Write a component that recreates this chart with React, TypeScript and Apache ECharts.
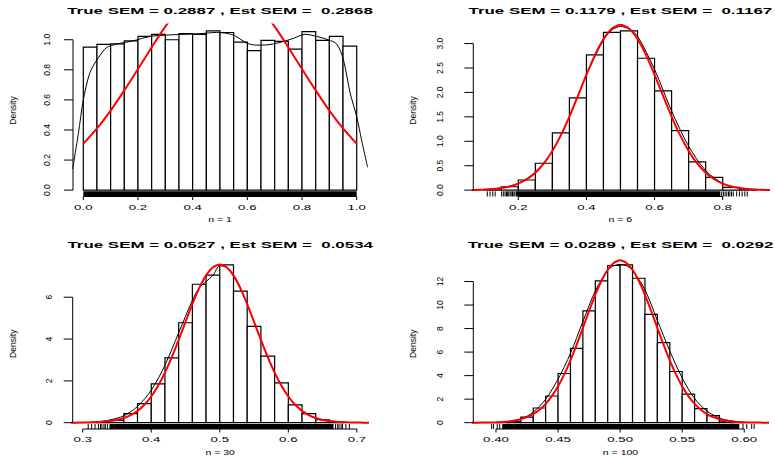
import React, { useEffect, useRef } from "react";
import * as echarts from "echarts";

// ---------------- Data ----------------
const titles = [
  "True SEM = 0.2887 , Est SEM =  0.2868",
  "True SEM = 0.1179 , Est SEM =  0.1167",
  "True SEM = 0.0527 , Est SEM =  0.0534",
  "True SEM = 0.0289 , Est SEM =  0.0292",
];
const xLabels = ["n = 1", "n = 6", "n = 30", "n = 100"];
const yLabel = "Density";

// Panel 1 (n = 1)
const p1Breaks = [0, 0.05, 0.1, 0.15, 0.2, 0.25, 0.3, 0.35, 0.4, 0.45, 0.5, 0.55, 0.6, 0.65, 0.7, 0.75, 0.8, 0.85, 0.9, 0.95, 1.0];
const p1Density = [0.951, 0.969, 0.973, 0.993, 1.023, 1.036, 1.0, 1.041, 1.036, 1.059, 1.048, 0.984, 0.928, 0.996, 0.989, 0.937, 1.054, 0.996, 1.023, 0.957];
const p1Kde = [
  [-0.039, 0.141], [-0.018, 0.377], [0, 0.6], [0.024, 0.78], [0.055, 0.88], [0.085, 0.948], [0.122, 0.971],
  [0.183, 0.993], [0.244, 1.022], [0.305, 1.031], [0.366, 1.036], [0.427, 1.04], [0.488, 1.049], [0.549, 1.031],
  [0.598, 0.978], [0.634, 0.964], [0.671, 0.966], [0.72, 0.982], [0.768, 1.009], [0.811, 1.036], [0.854, 1.022],
  [0.896, 1.0], [0.927, 0.971], [0.951, 0.87], [0.976, 0.646], [1.0, 0.489], [1.018, 0.332], [1.04, 0.152],
];
const p1Normal = [
  [0, 0.308], [0.05, 0.41], [0.1, 0.529], [0.15, 0.663], [0.2, 0.805], [0.25, 0.95], [0.3, 1.087], [0.35, 1.207],
  [0.4, 1.301], [0.45, 1.361], [0.5, 1.382], [0.55, 1.361], [0.6, 1.301], [0.65, 1.207], [0.7, 1.087], [0.75, 0.95],
  [0.8, 0.805], [0.85, 0.663], [0.9, 0.529], [0.95, 0.41], [1.0, 0.308],
];
const p1RugBand = [0, 1];
const p1RugTicks: number[] = [];
const p1XTicks = [0, 0.2, 0.4, 0.6, 0.8, 1.0];
const p1XTickLabels = ["0.0", "0.2", "0.4", "0.6", "0.8", "1.0"];
const p1YTicks = [0, 0.2, 0.4, 0.6, 0.8, 1.0];
const p1YTickLabels = ["0.0", "0.2", "0.4", "0.6", "0.8", "1.0"];

// Panel 2 (n = 6)
const p2Breaks = [0.1, 0.15, 0.2, 0.25, 0.3, 0.35, 0.4, 0.45, 0.5, 0.55, 0.6, 0.65, 0.7, 0.75, 0.8, 0.85, 0.9];
const p2Density = [0.004, 0.069, 0.207, 0.55, 1.17, 1.89, 2.77, 3.23, 3.26, 2.7, 2.03, 1.22, 0.58, 0.26, 0.055, 0.006];
const p2Kde = [
  [0.068, 0.003], [0.1, 0.01], [0.15, 0.045], [0.2, 0.14], [0.25, 0.37], [0.3, 0.8], [0.35, 1.5], [0.4, 2.36],
  [0.45, 3.07], [0.475, 3.28], [0.5, 3.35], [0.525, 3.3], [0.55, 3.15], [0.6, 2.47], [0.65, 1.62], [0.7, 0.9],
  [0.75, 0.4], [0.8, 0.14], [0.85, 0.04], [0.9, 0.01], [0.93, 0.003],
];
const p2Normal = [
  [0.05, 0.0023], [0.075, 0.0051], [0.1, 0.0107], [0.125, 0.0215], [0.15, 0.0413], [0.175, 0.0757], [0.2, 0.1329],
  [0.225, 0.223], [0.25, 0.357], [0.275, 0.548], [0.3, 0.803], [0.325, 1.125], [0.35, 1.506], [0.375, 1.929],
  [0.4, 2.362], [0.425, 2.764], [0.45, 3.093], [0.475, 3.309], [0.5, 3.384], [0.525, 3.309], [0.55, 3.093],
  [0.575, 2.764], [0.6, 2.362], [0.625, 1.929], [0.65, 1.506], [0.675, 1.125], [0.7, 0.803], [0.725, 0.548],
  [0.75, 0.357], [0.775, 0.223], [0.8, 0.1329], [0.825, 0.0757], [0.85, 0.0413], [0.875, 0.0215], [0.9, 0.0107],
  [0.925, 0.0051], [0.95, 0.0023],
];
const p2RugBand = [0.193, 0.793];
const p2RugTicks = [
  0.109, 0.117, 0.125, 0.132, 0.151, 0.156, 0.161, 0.165, 0.168, 0.172, 0.176, 0.179, 0.183, 0.187, 0.19,
  0.797, 0.802, 0.807, 0.812, 0.817, 0.821, 0.826, 0.831, 0.841, 0.849, 0.857, 0.865, 0.872,
];
const p2XTicks = [0.2, 0.4, 0.6, 0.8];
const p2XTickLabels = ["0.2", "0.4", "0.6", "0.8"];
const p2YTicks = [0, 0.5, 1.0, 1.5, 2.0, 2.5, 3.0];
const p2YTickLabels = ["0.0", "0.5", "1.0", "1.5", "2.0", "2.5", "3.0"];

// Panel 3 (n = 30)
const p3Breaks = [0.32, 0.34, 0.36, 0.38, 0.4, 0.42, 0.44, 0.46, 0.48, 0.5, 0.52, 0.54, 0.56, 0.58, 0.6, 0.62, 0.64, 0.66, 0.68];
const p3Density = [0.03, 0.11, 0.43, 0.91, 1.86, 3.1, 4.78, 6.62, 7.06, 7.55, 6.29, 4.61, 3.18, 1.9, 0.85, 0.43, 0.14, 0.03];
const p3Kde = [
  [0.285, 0.001], [0.3, 0.005], [0.32, 0.04], [0.34, 0.13], [0.36, 0.33], [0.38, 0.78], [0.4, 1.55], [0.42, 2.75],
  [0.44, 4.3], [0.46, 5.85], [0.47, 6.45], [0.48, 6.75], [0.49, 7.05], [0.5, 7.5], [0.51, 7.45], [0.52, 7.0],
  [0.53, 6.4], [0.54, 5.65], [0.55, 4.8], [0.56, 3.95], [0.58, 2.4], [0.6, 1.25], [0.62, 0.55], [0.64, 0.2],
  [0.66, 0.07], [0.68, 0.02], [0.7, 0.005], [0.716, 0.001],
];
const p3Normal = [
  [0.28, 0.0012], [0.29, 0.0027], [0.3, 0.0057], [0.31, 0.0114], [0.32, 0.0222], [0.33, 0.0416], [0.34, 0.0754],
  [0.35, 0.1318], [0.36, 0.222], [0.37, 0.361], [0.38, 0.567], [0.39, 0.857], [0.4, 1.251], [0.41, 1.761],
  [0.42, 2.392], [0.43, 3.133], [0.44, 3.959], [0.45, 4.826], [0.46, 5.675], [0.47, 6.438], [0.48, 7.044],
  [0.49, 7.435], [0.5, 7.57], [0.51, 7.435], [0.52, 7.044], [0.53, 6.438], [0.54, 5.675], [0.55, 4.826],
  [0.56, 3.959], [0.57, 3.133], [0.58, 2.392], [0.59, 1.761], [0.6, 1.251], [0.61, 0.857], [0.62, 0.567],
  [0.63, 0.361], [0.64, 0.222], [0.65, 0.1318], [0.66, 0.0754], [0.67, 0.0416], [0.68, 0.0222], [0.69, 0.0114],
  [0.7, 0.0057], [0.71, 0.0027], [0.72, 0.0012],
];
const p3RugBand = [0.339, 0.666];
const p3RugTicks = [0.308, 0.313, 0.318, 0.323, 0.326, 0.328, 0.331, 0.333, 0.336, 0.669, 0.672, 0.674, 0.677, 0.679, 0.684, 0.689];
const p3XTicks = [0.3, 0.4, 0.5, 0.6, 0.7];
const p3XTickLabels = ["0.3", "0.4", "0.5", "0.6", "0.7"];
const p3YTicks = [0, 2, 4, 6];
const p3YTickLabels = ["0", "2", "4", "6"];

// Panel 4 (n = 100)
const p4Breaks = [0.4, 0.41, 0.42, 0.43, 0.44, 0.45, 0.46, 0.47, 0.48, 0.49, 0.5, 0.51, 0.52, 0.53, 0.54, 0.55, 0.56, 0.57, 0.58, 0.59, 0.6];
const p4Density = [0.02, 0.08, 0.48, 1.25, 2.27, 4.18, 6.31, 9.5, 12.06, 13.36, 13.42, 12.28, 9.21, 6.8, 4.35, 2.42, 1.19, 0.6, 0.14, 0.02];
const p4Kde = [
  [0.382, 0.001], [0.4, 0.01], [0.41, 0.06], [0.42, 0.3], [0.43, 0.9], [0.44, 2.0], [0.45, 3.7], [0.46, 5.9],
  [0.47, 8.6], [0.48, 11.2], [0.49, 12.95], [0.495, 13.35], [0.5, 13.45], [0.505, 13.35], [0.51, 12.95],
  [0.52, 11.3], [0.53, 8.7], [0.54, 6.1], [0.55, 3.8], [0.56, 2.05], [0.57, 0.98], [0.58, 0.4], [0.59, 0.13],
  [0.6, 0.035], [0.619, 0.002],
];
const p4Normal = [
  [0.38, 0.0025], [0.385, 0.005], [0.39, 0.0099], [0.395, 0.0188], [0.4, 0.0346], [0.405, 0.0621], [0.41, 0.1081],
  [0.415, 0.1825], [0.42, 0.299], [0.425, 0.476], [0.43, 0.734], [0.435, 1.1], [0.44, 1.599], [0.445, 2.257],
  [0.45, 3.09], [0.455, 4.107], [0.46, 5.296], [0.465, 6.63], [0.47, 8.054], [0.475, 9.495], [0.48, 10.865],
  [0.485, 12.064], [0.49, 13.002], [0.495, 13.599], [0.5, 13.804], [0.505, 13.599], [0.51, 13.002], [0.515, 12.064],
  [0.52, 10.865], [0.525, 9.495], [0.53, 8.054], [0.535, 6.63], [0.54, 5.296], [0.545, 4.107], [0.55, 3.09],
  [0.555, 2.257], [0.56, 1.599], [0.565, 1.1], [0.57, 0.734], [0.575, 0.476], [0.58, 0.299], [0.585, 0.1825],
  [0.59, 0.1081], [0.595, 0.0621], [0.6, 0.0346], [0.605, 0.0188], [0.61, 0.0099], [0.615, 0.005], [0.62, 0.0025],
];
const p4RugBand = [0.405, 0.596];
const p4RugTicks = [0.3965, 0.398, 0.401, 0.403, 0.599, 0.602, 0.606, 0.608];
const p4XTicks = [0.4, 0.45, 0.5, 0.55, 0.6];
const p4XTickLabels = ["0.40", "0.45", "0.50", "0.55", "0.60"];
const p4YTicks = [0, 2, 4, 6, 8, 10, 12];
const p4YTickLabels = ["0", "2", "4", "6", "8", "10", "12"];

// ---------------- Layout (pixel boxes of the plot regions) ----------------
const layout = [
  { left: 73, top: 24.5, width: 294, height: 172, xMin: -0.0377, xMax: 1.0377, yLabOff: 26 },
  { left: 473.3, top: 24.5, width: 294.2, height: 172, xMin: 0.0679, xMax: 0.9315, yLabOff: 33 },
  { left: 72.7, top: 258.5, width: 295, height: 170.5, xMin: 0.2854, xMax: 0.7158, yLabOff: 24 },
  { left: 473.3, top: 258.5, width: 294.4, height: 170.5, xMin: 0.3817, xMax: 0.6189, yLabOff: 33 },
];

const panels = [
  { breaks: p1Breaks, dens: p1Density, kde: p1Kde, normal: p1Normal, rugBand: p1RugBand, rugTicks: p1RugTicks, xTicks: p1XTicks, xTickLabels: p1XTickLabels, yTicks: p1YTicks, yTickLabels: p1YTickLabels },
  { breaks: p2Breaks, dens: p2Density, kde: p2Kde, normal: p2Normal, rugBand: p2RugBand, rugTicks: p2RugTicks, xTicks: p2XTicks, xTickLabels: p2XTickLabels, yTicks: p2YTicks, yTickLabels: p2YTickLabels },
  { breaks: p3Breaks, dens: p3Density, kde: p3Kde, normal: p3Normal, rugBand: p3RugBand, rugTicks: p3RugTicks, xTicks: p3XTicks, xTickLabels: p3XTickLabels, yTicks: p3YTicks, yTickLabels: p3YTickLabels },
  { breaks: p4Breaks, dens: p4Density, kde: p4Kde, normal: p4Normal, rugBand: p4RugBand, rugTicks: p4RugTicks, xTicks: p4XTicks, xTickLabels: p4XTickLabels, yTicks: p4YTicks, yTickLabels: p4YTickLabels },
];

const FONT = "'Liberation Sans', Arial, Helvetica, sans-serif";

function buildOption() {
  const grid: any[] = [];
  const xAxis: any[] = [];
  const yAxis: any[] = [];
  const series: any[] = [];
  const graphic: any[] = [];

  panels.forEach((p, i) => {
    const L = layout[i];
    const M = Math.max(...p.dens);
    const yMin = -0.04 * M;
    const yMax = 1.04 * M;
    grid.push({ left: L.left, top: L.top, width: L.width, height: L.height, containLabel: false });
    xAxis.push({ type: "value", gridIndex: i, min: L.xMin, max: L.xMax, show: false });
    yAxis.push({ type: "value", gridIndex: i, min: yMin, max: yMax, show: false });

    // histogram
    series.push({
      type: "custom",
      xAxisIndex: i,
      yAxisIndex: i,
      silent: true,
      z: 2,
      data: p.dens.map((d, k) => [p.breaks[k], d, p.breaks[k + 1]]),
      renderItem: (params: any, api: any) => {
        const a = api.coord([api.value(0), 0]);
        const b = api.coord([api.value(2), api.value(1)]);
        return {
          type: "rect",
          shape: { x: a[0], y: b[1], width: b[0] - a[0], height: a[1] - b[1] },
          style: { fill: "#ffffff", stroke: "#000000", lineWidth: 1.2 },
        };
      },
    });

    // kernel density (black)
    series.push({
      type: "line",
      xAxisIndex: i,
      yAxisIndex: i,
      data: p.kde,
      symbol: "none",
      smooth: 0.3,
      silent: true,
      z: 3,
      lineStyle: { color: "#000000", width: 1 },
    });

    // normal curve (red)
    series.push({
      type: "line",
      xAxisIndex: i,
      yAxisIndex: i,
      data: p.normal,
      symbol: "none",
      smooth: 0.2,
      silent: true,
      z: 4,
      lineStyle: { color: "#ff0000", width: 2 },
    });

    // rug
    const rugData: any[] = [[p.rugBand[0], 1, p.rugBand[1]], ...p.rugTicks.map((t) => [t, 0, t])];
    series.push({
      type: "custom",
      xAxisIndex: i,
      yAxisIndex: i,
      silent: true,
      z: 5,
      data: rugData,
      renderItem: (params: any, api: any) => {
        const cs = params.coordSys;
        const bottom = cs.y + cs.height;
        const h = cs.height * 0.03;
        const x0 = api.coord([api.value(0), 0])[0];
        if (api.value(1) === 1) {
          const x1 = api.coord([api.value(2), 0])[0];
          return { type: "rect", shape: { x: x0, y: bottom - h, width: x1 - x0, height: h }, style: { fill: "#000000" } };
        }
        return {
          type: "line",
          shape: { x1: x0, y1: bottom, x2: x0, y2: bottom - h },
          style: { stroke: "#000000", lineWidth: 1 },
        };
      },
    });

    // x axis (R style: line between first and last tick)
    const xt = p.xTicks;
    const xl = p.xTickLabels;
    series.push({
      type: "custom",
      xAxisIndex: i,
      yAxisIndex: i,
      silent: true,
      z: 6,
      data: xt.map((t, k) => [t, k]),
      renderItem: (params: any, api: any) => {
        const cs = params.coordSys;
        const bottom = cs.y + cs.height;
        const k = api.value(1);
        const x = api.coord([api.value(0), 0])[0];
        const children: any[] = [
          { type: "line", shape: { x1: x, y1: bottom, x2: x, y2: bottom + 3.5 }, style: { stroke: "#000", lineWidth: 1 } },
          {
            type: "text",
            x: x,
            y: bottom + 10.5,
            scaleX: 1.9,
            style: { text: xl[k], fontSize: 7, fontFamily: FONT, fill: "#000", align: "center", verticalAlign: "middle" },
          },
        ];
        if (k === 0) {
          const xe = api.coord([xt[xt.length - 1], 0])[0];
          children.push({ type: "line", shape: { x1: x, y1: bottom, x2: xe, y2: bottom }, style: { stroke: "#000", lineWidth: 1 } });
        }
        return { type: "group", children };
      },
    });

    // y axis
    const yt = p.yTicks;
    const yl = p.yTickLabels;
    const labOff = L.yLabOff;
    series.push({
      type: "custom",
      xAxisIndex: i,
      yAxisIndex: i,
      silent: true,
      z: 6,
      data: yt.map((t, k) => [t, k]),
      renderItem: (params: any, api: any) => {
        const cs = params.coordSys;
        const left = cs.x;
        const k = api.value(1);
        const y = api.coord([0, api.value(0)])[1];
        const children: any[] = [
          { type: "line", shape: { x1: left, y1: y, x2: left - 9, y2: y }, style: { stroke: "#000", lineWidth: 1 } },
          {
            type: "text",
            x: left - labOff,
            y: y,
            rotation: Math.PI / 2,
            style: { text: yl[k], fontSize: 8.5, fontFamily: FONT, fill: "#000", align: "center", verticalAlign: "middle" },
          },
        ];
        if (k === 0) {
          const ye = api.coord([0, yt[yt.length - 1]])[1];
          children.push({ type: "line", shape: { x1: left, y1: y, x2: left, y2: ye }, style: { stroke: "#000", lineWidth: 1 } });
        }
        return { type: "group", children };
      },
    });

    // titles and axis titles
    const cx = L.left + L.width / 2;
    const cy = L.top + L.height / 2;
    graphic.push({
      type: "text",
      x: cx,
      y: L.top - 13,
      scaleX: 1.88,
      silent: true,
      style: { text: titles[i], font: `bold 9px ${FONT}`, fill: "#000", align: "center", verticalAlign: "middle" },
    });
    graphic.push({
      type: "text",
      x: cx,
      y: L.top + L.height + 23.5,
      scaleX: 1.5,
      silent: true,
      style: { text: xLabels[i], font: `7px ${FONT}`, fill: "#000", align: "center", verticalAlign: "middle" },
    });
    graphic.push({
      type: "text",
      x: L.left - 60,
      y: cy,
      rotation: Math.PI / 2,
      silent: true,
      style: { text: yLabel, font: `8.5px ${FONT}`, fill: "#000", align: "center", verticalAlign: "middle" },
    });
  });

  return {
    animation: false,
    backgroundColor: "#ffffff",
    grid,
    xAxis,
    yAxis,
    series,
    graphic,
  };
}

export default function App() {
  const ref = useRef<HTMLDivElement>(null);
  useEffect(() => {
    if (!ref.current) return;
    const chart = echarts.init(ref.current, undefined, { renderer: "svg" });
    chart.setOption(buildOption() as any);
    return () => chart.dispose();
  }, []);
  return (
    <div
      ref={ref}
      style={{ position: "fixed", left: 0, top: 0, width: 775, height: 457, background: "#fff" }}
    />
  );
}
